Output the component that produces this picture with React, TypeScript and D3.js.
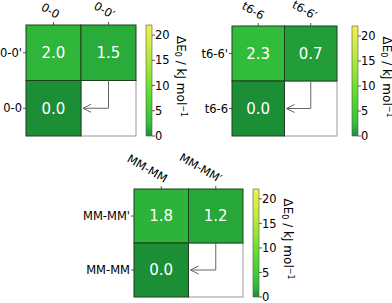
import React from "react";
import * as d3 from "d3";

const W = 392;
const H = 303;

// conformer pair names per panel
const names = ["0-0", "t6-6", "MM-MM"];
// heatmap values: [top-left, top-right, bottom-left] (bottom-right is empty)
const topRow = [
  [2.0, 1.5],
  [2.3, 0.7],
  [1.8, 1.2],
];
const bottomRow = [0.0, 0.0, 0.0];
const cbarTicks = [0, 5, 10, 15, 20];
const cbarMax = 22;

// layout boxes for each panel (heatmap area + colorbar x)
const boxes = [
  { x: 26, y: 25, w: 110, h: 111, cx: 146 },
  { x: 232, y: 26, w: 105, h: 110, cx: 352 },
  { x: 134, y: 189, w: 109, h: 108, cx: 253 },
];

const color = d3
  .scaleLinear<string>()
  .domain([0, 2.5, 8, 14, 22])
  .range(["#1c8f36", "#34c03c", "#55dc2a", "#a6e838", "#f2f24a"])
  .clamp(true);

const font = "DejaVu Sans, sans-serif";
const fs = 11.5;

const Panel = ({ i }: { i: number }) => {
  const b = boxes[i];
  const n = names[i];
  const xLabels = [n, n + "\u2032"];
  const yLabels = [n + "'", n];
  const x = d3.scaleBand().domain(["0", "1"]).range([b.x, b.x + b.w]);
  const y = d3.scaleBand().domain(["0", "1"]).range([b.y, b.y + b.h]);
  const bw = x.bandwidth();
  const bh = y.bandwidth();
  const cells = [
    { c: "0", r: "0", v: topRow[i][0] },
    { c: "1", r: "0", v: topRow[i][1] },
    { c: "0", r: "1", v: bottomRow[i] },
  ];
  const cy = d3.scaleLinear().domain([0, cbarMax]).range([b.y + b.h, b.y]);
  const gradId = `grad${i}`;
  const stops = d3.range(0, 11).map((k) => k / 10);

  // arrow in empty cell
  const ax = x("1")! + bw / 2;
  const ay0 = y("1")!;
  const ay1 = y("1")! + bh / 2;
  const axEnd = x("1")! + 2;

  return (
    <g>
      <defs>
        <linearGradient id={gradId} x1="0" y1="1" x2="0" y2="0">
          {stops.map((s) => (
            <stop key={s} offset={s} stopColor={color(s * cbarMax)} />
          ))}
        </linearGradient>
      </defs>
      {/* empty cell */}
      <rect
        x={x("1")}
        y={y("1")}
        width={bw}
        height={bh}
        fill="#fff"
        stroke="#999"
        strokeWidth={1}
      />
      {cells.map((d, k) => (
        <g key={k}>
          <rect
            x={x(d.c)}
            y={y(d.r)}
            width={bw}
            height={bh}
            fill={color(d.v)}
            stroke="#1d3f1d"
            strokeWidth={1}
          />
          <text
            x={x(d.c)! + bw / 2}
            y={y(d.r)! + bh / 2}
            dy="0.36em"
            textAnchor="middle"
            fill="#fff"
            fontSize={15}
            fontFamily={font}
          >
            {d.v.toFixed(1)}
          </text>
        </g>
      ))}
      <path
        d={`M${ax},${ay0}V${ay1}H${axEnd}`}
        fill="none"
        stroke="#666"
        strokeWidth={1}
      />
      <path
        d={`M${axEnd + 8},${ay1 - 4}L${axEnd},${ay1}L${axEnd + 8},${ay1 + 4}`}
        fill="none"
        stroke="#666"
        strokeWidth={1}
      />
      {/* top ticks */}
      {xLabels.map((l, k) => {
        const tx = x(String(k))! + bw / 2;
        return (
          <g key={l}>
            <line x1={tx} x2={tx} y1={b.y} y2={b.y - 3} stroke="#333" strokeWidth={0.8} />
            <text
              transform={`translate(${tx + 3},${b.y - 6}) rotate(30)`}
              textAnchor="end"
              fontSize={fs}
              fontFamily={font}
              fill="#000"
            >
              {l}
            </text>
          </g>
        );
      })}
      {/* left ticks */}
      {yLabels.map((l, k) => {
        const ty = y(String(k))! + bh / 2;
        return (
          <g key={l}>
            <line x1={b.x} x2={b.x - 3} y1={ty} y2={ty} stroke="#333" strokeWidth={0.8} />
            <text
              x={b.x - 4}
              y={ty}
              dy="0.36em"
              textAnchor="end"
              fontSize={fs}
              fontFamily={font}
              fill="#000"
            >
              {l}
            </text>
          </g>
        );
      })}
      {/* colorbar */}
      <rect
        x={b.cx}
        y={b.y}
        width={6}
        height={b.h}
        fill={`url(#${gradId})`}
        stroke="#555"
        strokeWidth={0.6}
      />
      {cbarTicks.map((t) => (
        <g key={t}>
          <line
            x1={b.cx + 6}
            x2={b.cx + 9}
            y1={cy(t)}
            y2={cy(t)}
            stroke="#333"
            strokeWidth={0.8}
          />
          <text
            x={b.cx + 9}
            y={cy(t)}
            dy="0.36em"
            fontSize={fs}
            fontFamily={font}
            fill="#000"
          >
            {t}
          </text>
        </g>
      ))}
      <text
        transform={`translate(${b.cx + 31},${b.y + b.h / 2 - 4}) rotate(90)`}
        textAnchor="middle"
        fontSize={12}
        fontFamily={font}
        fill="#000"
      >
        ΔE
        <tspan fontSize={8} dy={2}>0</tspan>
        <tspan dy={-2}> / kJ mol</tspan>
        <tspan fontSize={8} dy={-4}>−1</tspan>
      </text>
    </g>
  );
};

export default function App() {
  return (
    <svg
      width={W}
      height={H}
      style={{ position: "absolute", left: 0, top: 0, background: "#fff" }}
    >
      {names.map((_, i) => (
        <Panel key={i} i={i} />
      ))}
    </svg>
  );
}
